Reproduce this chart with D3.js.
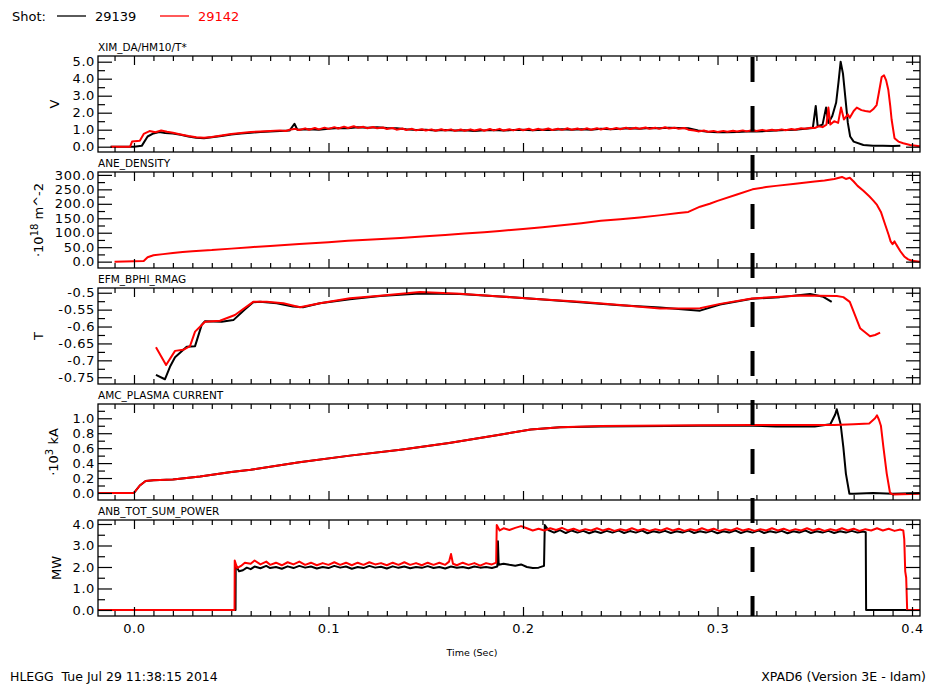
<!DOCTYPE html>
<html><head><meta charset="utf-8">
<script src="https://cdn.jsdelivr.net/npm/d3@7"></script>
<style>
body{margin:0;background:#fff}
svg text{font-family:"DejaVu Sans",Arial,sans-serif}
</style></head>
<body><svg id="c" width="934" height="686"></svg>
<script>
// ---------- data ----------
const shots = ["29139", "29142"];
const timeDomain = [-0.0185, 0.4041];
const timeTicks = [0.0, 0.1, 0.2, 0.3, 0.4];
const timeTickLabels = ["0.0", "0.1", "0.2", "0.3", "0.4"];
const markerTime = 0.318;

const panelTitles = ["XIM_DA/HM10/T*", "ANE_DENSITY", "EFM_BPHI_RMAG", "AMC_PLASMA CURRENT", "ANB_TOT_SUM_POWER"];

const ximTicks = [0, 1, 2, 3, 4, 5];
const ximTickLabels = ["0.0", "1.0", "2.0", "3.0", "4.0", "5.0"];
const aneTicks = [0, 50, 100, 150, 200, 250, 300];
const aneTickLabels = ["0.0", "50.0", "100.0", "150.0", "200.0", "250.0", "300.0"];
const bphiTicks = [-0.75, -0.7, -0.65, -0.6, -0.55, -0.5];
const bphiTickLabels = ["-0.75", "-0.7", "-0.65", "-0.6", "-0.55", "-0.5"];
const ipTicks = [0, 0.2, 0.4, 0.6, 0.8, 1.0];
const ipTickLabels = ["0.0", "0.2", "0.4", "0.6", "0.8", "1.0"];
const nbiTicks = [0, 1, 2, 3, 4];
const nbiTickLabels = ["0.0", "1.0", "2.0", "3.0", "4.0"];

const xim29139 = [[-0.012,0.0],[0.0,0.0],[0.004,0.05],[0.007,0.6],[0.01,0.78],[0.013,0.86],[0.016,0.8],[0.02,0.78],[0.024,0.7],[0.028,0.6],[0.032,0.52],[0.036,0.5],[0.04,0.55],[0.045,0.63],[0.05,0.72],[0.055,0.78],[0.06,0.82],[0.065,0.87],[0.07,0.9],[0.075,0.92],[0.08,0.95],[0.0825,1.35],[0.084,1.0],[0.09,1.02],[0.095,1.0],[0.1,1.05],[0.105,1.1],[0.11,1.08],[0.115,1.15],[0.12,1.12],[0.125,1.15],[0.13,1.1],[0.135,1.08],[0.14,1.02],[0.145,0.98],[0.15,1.0],[0.155,0.95],[0.16,0.98],[0.165,0.95],[0.17,0.97],[0.175,0.93],[0.18,0.96],[0.185,0.98],[0.19,0.95],[0.195,0.98],[0.2,1.0],[0.205,0.97],[0.21,1.0],[0.215,0.98],[0.22,1.02],[0.225,1.0],[0.23,1.03],[0.235,1.0],[0.24,1.05],[0.245,1.02],[0.25,1.05],[0.255,1.08],[0.26,1.05],[0.265,1.1],[0.27,1.08],[0.275,1.12],[0.28,1.1],[0.285,1.08],[0.29,0.95],[0.295,0.88],[0.3,0.85],[0.305,0.85],[0.31,0.87],[0.315,0.9],[0.32,0.9],[0.325,0.92],[0.33,0.95],[0.335,0.98],[0.34,1.0],[0.345,1.05],[0.349,1.1],[0.3505,2.4],[0.3515,1.2],[0.354,1.3],[0.3558,2.3],[0.357,1.4],[0.359,1.8],[0.361,2.6],[0.3622,3.8],[0.3633,5.0],[0.3645,4.3],[0.3658,2.8],[0.367,1.4],[0.3682,0.6],[0.37,0.3],[0.375,0.1],[0.38,0.05],[0.385,0.06],[0.39,0.04],[0.394,0.05]];
const xim29142 = [[-0.012,0.0],[-0.002,0.0],[-0.001,0.3],[0.003,0.35],[0.005,0.75],[0.008,0.92],[0.011,0.85],[0.014,0.95],[0.017,0.88],[0.02,0.82],[0.024,0.72],[0.028,0.63],[0.032,0.56],[0.036,0.53],[0.04,0.57],[0.045,0.66],[0.05,0.75],[0.055,0.8],[0.06,0.86],[0.065,0.9],[0.07,0.93],[0.075,0.96],[0.078,0.92],[0.08,1.0],[0.083,1.05],[0.085,0.98],[0.088,1.08],[0.09,1.0],[0.093,1.1],[0.095,1.02],[0.098,1.12],[0.1,1.05],[0.103,1.15],[0.105,1.07],[0.108,1.18],[0.11,1.1],[0.113,1.2],[0.115,1.12],[0.118,1.17],[0.12,1.08],[0.123,1.16],[0.125,1.08],[0.128,1.13],[0.13,1.04],[0.133,1.1],[0.135,1.0],[0.138,1.07],[0.14,0.98],[0.143,1.05],[0.145,0.96],[0.148,1.03],[0.15,0.95],[0.153,1.02],[0.155,0.94],[0.158,1.03],[0.16,0.95],[0.163,1.02],[0.165,0.93],[0.168,1.01],[0.17,0.94],[0.173,1.02],[0.175,0.95],[0.178,1.03],[0.18,0.94],[0.183,1.04],[0.185,0.96],[0.188,1.05],[0.19,0.95],[0.193,1.03],[0.195,0.96],[0.198,1.05],[0.2,0.97],[0.203,1.06],[0.205,0.97],[0.208,1.05],[0.21,0.98],[0.213,1.07],[0.215,0.98],[0.218,1.06],[0.22,0.99],[0.223,1.08],[0.225,1.0],[0.228,1.07],[0.23,0.99],[0.233,1.08],[0.235,1.0],[0.238,1.09],[0.24,1.01],[0.243,1.1],[0.245,1.02],[0.248,1.1],[0.25,1.03],[0.253,1.12],[0.255,1.04],[0.258,1.11],[0.26,1.05],[0.263,1.13],[0.265,1.06],[0.268,1.12],[0.27,1.05],[0.273,1.14],[0.275,1.07],[0.278,1.12],[0.28,1.05],[0.283,1.1],[0.285,1.0],[0.288,0.95],[0.29,0.9],[0.293,0.95],[0.295,0.88],[0.298,0.93],[0.3,0.87],[0.303,0.93],[0.305,0.88],[0.308,0.94],[0.31,0.89],[0.313,0.96],[0.315,0.9],[0.318,0.98],[0.32,0.92],[0.323,0.99],[0.325,0.94],[0.328,1.0],[0.33,0.95],[0.333,1.02],[0.335,0.97],[0.338,1.04],[0.34,1.0],[0.343,1.08],[0.345,1.05],[0.348,1.12],[0.35,1.1],[0.352,1.2],[0.354,1.15],[0.356,1.3],[0.357,2.3],[0.358,1.3],[0.36,1.5],[0.362,1.4],[0.3635,2.3],[0.365,1.6],[0.367,1.9],[0.368,1.7],[0.37,2.1],[0.3716,2.3],[0.374,2.15],[0.376,2.1],[0.3784,2.05],[0.38,2.2],[0.3818,2.45],[0.383,3.2],[0.3844,4.1],[0.3856,4.2],[0.3867,3.9],[0.3878,3.35],[0.3888,2.4],[0.3895,1.6],[0.391,0.5],[0.393,0.3],[0.3955,0.2],[0.399,0.1],[0.404,0.02]];

const ane29142 = [[-0.01,0],[0.0,1],[0.005,2],[0.007,15],[0.01,22],[0.015,26],[0.02,30],[0.025,33],[0.03,36],[0.034,38],[0.04,40],[0.05,45],[0.06,50],[0.07,54],[0.085,61],[0.1,67],[0.11,72],[0.12,76],[0.137,82],[0.15,88],[0.16,92],[0.17,97],[0.18,102],[0.188,106],[0.2,113],[0.21,119],[0.22,126],[0.23,133],[0.24,141],[0.25,147],[0.26,153],[0.27,160],[0.28,168],[0.285,172],[0.291,190],[0.296,200],[0.3,210],[0.31,232],[0.318,250],[0.325,258],[0.33,262],[0.34,269],[0.35,277],[0.355,281],[0.36,286],[0.364,293],[0.366,286],[0.368,290],[0.37,277],[0.372,262],[0.375,245],[0.378,226],[0.38,212],[0.382,196],[0.384,172],[0.386,132],[0.388,92],[0.389,70],[0.39,60],[0.391,70],[0.392,58],[0.394,36],[0.396,18],[0.398,8],[0.4,3],[0.404,0]];

const bphi29139 = [[0.0113,-0.743],[0.0159,-0.756],[0.0185,-0.719],[0.0211,-0.691],[0.0271,-0.660],[0.0314,-0.658],[0.0348,-0.595],[0.0365,-0.584],[0.0451,-0.586],[0.0511,-0.581],[0.0571,-0.549],[0.0613,-0.528],[0.0648,-0.527],[0.0734,-0.531],[0.0817,-0.541],[0.0869,-0.543],[0.0956,-0.531],[0.111,-0.519],[0.1265,-0.510],[0.147,-0.502],[0.1676,-0.504],[0.1882,-0.511],[0.2087,-0.519],[0.2293,-0.528],[0.2499,-0.537],[0.2704,-0.544],[0.291,-0.553],[0.3013,-0.535],[0.3177,-0.518],[0.332,-0.513],[0.3476,-0.504],[0.3544,-0.512],[0.3587,-0.527]];
const bphi29142 = [[0.0113,-0.661],[0.0165,-0.714],[0.0211,-0.672],[0.0253,-0.669],[0.0288,-0.658],[0.0314,-0.615],[0.0365,-0.586],[0.0442,-0.583],[0.0519,-0.566],[0.0613,-0.527],[0.0682,-0.527],[0.0768,-0.531],[0.0853,-0.543],[0.0956,-0.531],[0.111,-0.516],[0.1265,-0.509],[0.147,-0.498],[0.1676,-0.503],[0.1882,-0.511],[0.2087,-0.519],[0.2293,-0.527],[0.2499,-0.536],[0.2704,-0.547],[0.291,-0.546],[0.3013,-0.533],[0.3177,-0.517],[0.332,-0.512],[0.3424,-0.508],[0.3613,-0.510],[0.3647,-0.513],[0.368,-0.527],[0.3733,-0.605],[0.3784,-0.629],[0.381,-0.625],[0.3836,-0.618]];

const ip29139 = [[-0.019,0],[-0.002,0],[0.0,0.0],[0.003,0.1],[0.006,0.16],[0.01,0.17],[0.02,0.18],[0.034,0.22],[0.05,0.28],[0.06,0.31],[0.085,0.41],[0.111,0.5],[0.137,0.58],[0.162,0.67],[0.188,0.78],[0.204,0.85],[0.219,0.88],[0.24,0.89],[0.291,0.9],[0.318,0.9],[0.33,0.89],[0.35,0.89],[0.358,0.92],[0.3605,1.05],[0.3613,1.12],[0.362,1.05],[0.3633,0.92],[0.3647,0.61],[0.366,0.26],[0.3678,-0.01],[0.37,-0.01],[0.38,0.0],[0.39,-0.01],[0.404,0.0]];
const ip29142 = [[-0.019,0],[-0.002,0],[0.0,0.0],[0.003,0.1],[0.006,0.16],[0.01,0.17],[0.02,0.18],[0.034,0.22],[0.05,0.28],[0.06,0.31],[0.085,0.41],[0.111,0.5],[0.137,0.58],[0.162,0.67],[0.188,0.78],[0.204,0.85],[0.219,0.88],[0.24,0.895],[0.291,0.905],[0.318,0.91],[0.33,0.91],[0.35,0.91],[0.36,0.91],[0.37,0.92],[0.378,0.93],[0.381,1.0],[0.382,1.04],[0.383,0.98],[0.384,0.9],[0.3853,0.61],[0.387,0.26],[0.3887,0.0],[0.39,-0.02],[0.404,-0.01]];

const nbi29139 = [[-0.019,0],[0.0522,0],[0.0523,2.1],[0.054,1.8],[0.056,1.85],[0.058,1.97],[0.06,1.9],[0.062,2.02],[0.065,1.94],[0.068,2.05],[0.07,1.95],[0.073,2.0],[0.076,1.92],[0.079,2.03],[0.082,1.95],[0.085,2.05],[0.088,1.97],[0.091,2.02],[0.094,1.93],[0.097,2.0],[0.1,1.95],[0.103,2.05],[0.106,1.97],[0.109,2.02],[0.112,1.92],[0.115,2.0],[0.118,1.95],[0.121,2.05],[0.124,1.97],[0.127,2.01],[0.13,1.93],[0.133,2.03],[0.136,1.96],[0.139,2.02],[0.142,1.94],[0.145,2.0],[0.148,1.96],[0.151,2.04],[0.154,1.95],[0.157,2.0],[0.16,1.93],[0.163,2.02],[0.166,1.96],[0.169,2.0],[0.172,1.94],[0.175,2.02],[0.178,1.97],[0.181,2.0],[0.184,1.95],[0.1868,2.02],[0.1871,3.2],[0.1875,2.1],[0.19,2.15],[0.193,2.1],[0.196,2.06],[0.199,2.12],[0.202,2.0],[0.205,1.95],[0.208,1.97],[0.2108,2.05],[0.2112,3.95],[0.213,3.72],[0.216,3.6],[0.219,3.72],[0.222,3.58],[0.225,3.7],[0.228,3.6],[0.231,3.68],[0.234,3.57],[0.237,3.66],[0.24,3.58],[0.243,3.68],[0.246,3.6],[0.249,3.7],[0.252,3.58],[0.255,3.67],[0.258,3.6],[0.261,3.7],[0.264,3.57],[0.267,3.66],[0.27,3.6],[0.273,3.68],[0.276,3.58],[0.279,3.66],[0.282,3.6],[0.285,3.7],[0.288,3.58],[0.291,3.66],[0.294,3.6],[0.297,3.68],[0.3,3.57],[0.303,3.66],[0.306,3.6],[0.309,3.7],[0.312,3.58],[0.315,3.67],[0.318,3.6],[0.321,3.7],[0.324,3.58],[0.327,3.66],[0.33,3.6],[0.333,3.68],[0.336,3.57],[0.339,3.66],[0.342,3.6],[0.345,3.7],[0.348,3.58],[0.351,3.66],[0.354,3.6],[0.357,3.68],[0.36,3.58],[0.363,3.66],[0.366,3.6],[0.369,3.68],[0.372,3.6],[0.375,3.65],[0.3762,3.62],[0.3764,0],[0.397,0]];
const nbi29142 = [[-0.019,0],[0.0517,0],[0.0518,2.3],[0.053,1.95],[0.055,2.05],[0.057,2.2],[0.06,2.15],[0.062,2.3],[0.065,2.12],[0.068,2.25],[0.07,2.1],[0.073,2.2],[0.076,2.08],[0.079,2.22],[0.082,2.12],[0.085,2.25],[0.088,2.1],[0.091,2.2],[0.094,2.08],[0.097,2.18],[0.1,2.1],[0.103,2.22],[0.106,2.1],[0.109,2.2],[0.112,2.08],[0.115,2.2],[0.118,2.1],[0.121,2.22],[0.124,2.12],[0.127,2.18],[0.13,2.08],[0.133,2.2],[0.136,2.1],[0.139,2.22],[0.142,2.1],[0.145,2.18],[0.148,2.08],[0.151,2.2],[0.154,2.1],[0.157,2.2],[0.16,2.1],[0.162,2.25],[0.163,2.6],[0.164,2.15],[0.166,2.08],[0.169,2.2],[0.172,2.1],[0.175,2.18],[0.178,2.06],[0.181,2.18],[0.184,2.12],[0.1862,2.2],[0.1865,3.95],[0.188,3.7],[0.19,3.8],[0.193,3.72],[0.196,3.82],[0.199,3.9],[0.202,3.8],[0.205,3.7],[0.208,3.78],[0.211,3.7],[0.214,3.8],[0.217,3.72],[0.22,3.82],[0.223,3.7],[0.226,3.78],[0.229,3.68],[0.232,3.76],[0.235,3.7],[0.238,3.8],[0.241,3.7],[0.244,3.78],[0.247,3.68],[0.25,3.76],[0.253,3.7],[0.256,3.8],[0.259,3.7],[0.262,3.77],[0.265,3.68],[0.268,3.76],[0.271,3.7],[0.274,3.8],[0.277,3.7],[0.28,3.78],[0.283,3.68],[0.286,3.76],[0.289,3.7],[0.292,3.8],[0.295,3.7],[0.298,3.78],[0.301,3.68],[0.304,3.76],[0.307,3.7],[0.31,3.8],[0.313,3.7],[0.316,3.77],[0.319,3.68],[0.322,3.76],[0.325,3.7],[0.328,3.8],[0.331,3.7],[0.334,3.78],[0.337,3.68],[0.34,3.76],[0.343,3.7],[0.346,3.8],[0.349,3.7],[0.352,3.78],[0.355,3.68],[0.358,3.76],[0.361,3.7],[0.364,3.8],[0.367,3.7],[0.37,3.78],[0.373,3.68],[0.376,3.76],[0.379,3.7],[0.382,3.8],[0.385,3.7],[0.388,3.78],[0.391,3.68],[0.394,3.74],[0.3955,3.7],[0.396,3.3],[0.3965,1.8],[0.397,1.5],[0.3975,0],[0.405,0]];

// ---------- layout ----------
const W = 934, H = 686;
const X0 = 98, X1 = 920, PT = 56, PH = 96, PSTEP = 116;
const seriesColors = ["#000000", "#ff0000"];

const panels = [
  {title: panelTitles[0], domain: [-0.312, 5.335], ticks: ximTicks, labels: ximTickLabels, minorStep: 0.5, series: [xim29139, xim29142], unit: [["V"]], unitX: 59},
  {title: panelTitles[1], domain: [-22, 310], ticks: aneTicks, labels: aneTickLabels, minorStep: 25, series: [null, ane29142], unit: [["·10"], ["18", "sup"], [" m^-2"]], unitX: 43},
  {title: panelTitles[2], domain: [-0.77, -0.486], ticks: bphiTicks, labels: bphiTickLabels, minorStep: 0.025, series: [bphi29139, bphi29142], unit: [["T"]], unitX: 43},
  {title: panelTitles[3], domain: [-0.094, 1.191], ticks: ipTicks, labels: ipTickLabels, minorStep: 0.1, series: [ip29139, ip29142], unit: [["·10"], ["3", "sup"], [" kA"]], unitX: 58},
  {title: panelTitles[4], domain: [-0.28, 4.186], ticks: nbiTicks, labels: nbiTickLabels, minorStep: 0.5, series: [nbi29139, nbi29142], unit: [["MW"]], unitX: 61}
];

const svg = d3.select("#c");
svg.append("rect").attr("width", W).attr("height", H).attr("fill", "#fff");
const x = d3.scaleLinear().domain(timeDomain).range([X0, X1]);
const xMinor = d3.range(-0.01, 0.405, 0.01).filter(v => timeTicks.every(t => Math.abs(t - v) > 1e-6));

function styleAxis(g) {
  g.select(".domain").remove();
  g.selectAll("line").attr("stroke", "#000").attr("stroke-width", 1.2);
  g.selectAll("text").attr("font-size", 13).attr("letter-spacing", 0.6).attr("fill", "#000")
    .attr("font-family", "DejaVu Sans, Arial, sans-serif");
}

panels.forEach((p, i) => {
  const top = PT + i * PSTEP, bot = top + PH;
  const y = d3.scaleLinear().domain(p.domain).range([bot, top]);
  const yMinor = d3.range(Math.ceil(p.domain[0] / p.minorStep) * p.minorStep, p.domain[1], p.minorStep)
    .filter(v => p.ticks.every(t => Math.abs(t - v) > 1e-6));

  svg.append("clipPath").attr("id", "cp" + i).append("rect")
    .attr("x", X0).attr("y", top).attr("width", X1 - X0).attr("height", PH);

  const line = d3.line().x(d => x(d[0])).y(d => y(d[1]));
  p.series.forEach((s, k) => {
    if (!s) return;
    svg.append("path").datum(s).attr("clip-path", `url(#cp${i})`)
      .attr("fill", "none").attr("stroke", seriesColors[k]).attr("stroke-width", 2)
      .attr("stroke-linejoin", "round").attr("d", line);
  });

  // left axis
  svg.append("g").attr("transform", `translate(${X0},0)`)
    .call(d3.axisLeft(y).tickValues(p.ticks).tickFormat((d, j) => p.labels[j]).tickSize(-14).tickPadding(3))
    .call(styleAxis);
  svg.append("g").attr("transform", `translate(${X0},0)`)
    .call(d3.axisLeft(y).tickValues(yMinor).tickFormat("").tickSize(-7)).call(styleAxis);
  // right axis
  svg.append("g").attr("transform", `translate(${X1},0)`)
    .call(d3.axisRight(y).tickValues(p.ticks).tickFormat("").tickSize(-14)).call(styleAxis);
  svg.append("g").attr("transform", `translate(${X1},0)`)
    .call(d3.axisRight(y).tickValues(yMinor).tickFormat("").tickSize(-7)).call(styleAxis);
  // top axis
  svg.append("g").attr("transform", `translate(0,${top})`)
    .call(d3.axisTop(x).tickValues(timeTicks).tickFormat("").tickSize(-9)).call(styleAxis);
  svg.append("g").attr("transform", `translate(0,${top})`)
    .call(d3.axisTop(x).tickValues(xMinor).tickFormat("").tickSize(-5)).call(styleAxis);
  // bottom axis
  const last = i === panels.length - 1;
  svg.append("g").attr("transform", `translate(0,${bot})`)
    .call(d3.axisBottom(x).tickValues(timeTicks).tickFormat((d, j) => last ? timeTickLabels[j] : "").tickSize(-9).tickPadding(8))
    .call(styleAxis);
  svg.append("g").attr("transform", `translate(0,${bot})`)
    .call(d3.axisBottom(x).tickValues(xMinor).tickFormat("").tickSize(-5)).call(styleAxis);

  // frame
  svg.append("rect").attr("x", X0).attr("y", top).attr("width", X1 - X0).attr("height", PH)
    .attr("fill", "none").attr("stroke", "#000").attr("stroke-width", 1.3);

  // title
  svg.append("text").attr("x", X0).attr("y", top - 5).attr("font-size", 10.5).text(p.title);

  // unit label
  const ut = svg.append("text")
    .attr("transform", `translate(${p.unitX},${top + PH / 2}) rotate(-90)`)
    .attr("text-anchor", "middle").attr("font-size", 13);
  p.unit.forEach(u => {
    const ts = ut.append("tspan").text(u[0]);
    if (u[1] === "sup") ts.attr("baseline-shift", "super").attr("font-size", 10);
  });
});

// marker dashed line
svg.append("line").attr("x1", x(markerTime)).attr("x2", x(markerTime))
  .attr("y1", PT + 1).attr("y2", PT + 4 * PSTEP + PH)
  .attr("stroke", "#000").attr("stroke-width", 4).attr("stroke-dasharray", "25,24");

// legend
svg.append("text").attr("x", 12).attr("y", 21).attr("font-size", 13).text("Shot:");
[0, 1].forEach(k => {
  const lx = [57, 160][k];
  svg.append("line").attr("x1", lx).attr("x2", lx + 29).attr("y1", 16).attr("y2", 16)
    .attr("stroke", seriesColors[k]).attr("stroke-width", 1.3);
  svg.append("text").attr("x", lx + 38).attr("y", 21).attr("font-size", 13)
    .attr("fill", seriesColors[k]).text(shots[k]);
});

// axis title & footer
svg.append("text").attr("x", 472).attr("y", 656).attr("text-anchor", "middle").attr("font-size", 9.5).text("Time (Sec)");
svg.append("text").attr("x", 10).attr("y", 681).attr("font-size", 12.5).attr("xml:space", "preserve").text("HLEGG  Tue Jul 29 11:38:15 2014");
svg.append("text").attr("x", 926).attr("y", 681).attr("text-anchor", "end").attr("font-size", 12.5).text("XPAD6 (Version 3E - Idam)");
</script>
</body></html>
